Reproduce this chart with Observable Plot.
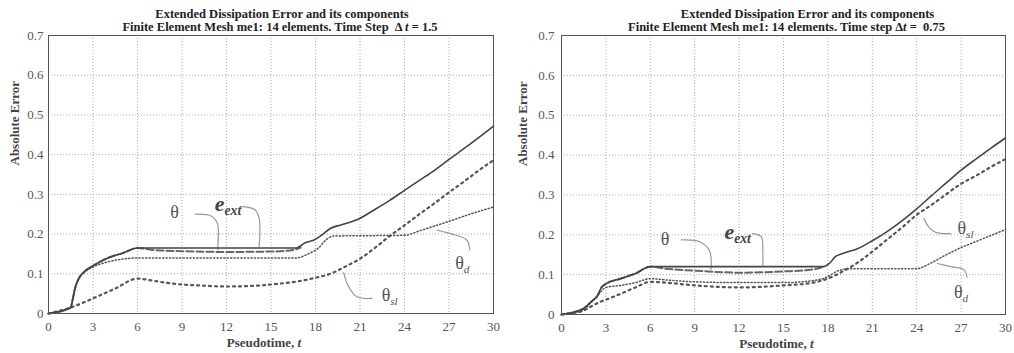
<!DOCTYPE html>
<html><head><meta charset="utf-8">
<script src="https://cdn.jsdelivr.net/npm/d3@7"></script>
<script src="https://cdn.jsdelivr.net/npm/@observablehq/plot@0.6"></script>
<style>
body{margin:0;background:#fff;}
#wrap{display:flex;width:1014px;height:353px;overflow:hidden;}
#wrap svg{display:block;}
</style></head><body><div id="wrap"></div>
<script>
// ---- shared text / ticks ----
const xTicks = [0, 3, 6, 9, 12, 15, 18, 21, 24, 27, 30];
const yTicks = [0, 0.1, 0.2, 0.3, 0.4, 0.5, 0.6, 0.7];
const titleLine1 = "Extended Dissipation Error and its components";
const subtitleLeft = "Finite Element Mesh me1: 14 elements. Time Step  Δ *t* = 1.5";
const subtitleRight = "Finite Element Mesh me1: 14 elements. Time step Δ*t* =  0.75";
const xLabel = "Pseudotime, *t*";
const yLabel = "Absolute Error";

// ---- left panel (Δt = 1.5) ----
const L_eExt_t = [0, 1.5, 1.6, 1.8, 2.0, 2.5, 3, 4, 5, 6, 16.7, 17.3, 17.9, 18.4, 19, 19.7, 20.8, 22, 23, 24, 25, 26, 27, 28, 29, 30];
const L_eExt_v = [0, 0.015, 0.03, 0.065, 0.085, 0.108, 0.12, 0.14, 0.152, 0.165, 0.165, 0.178, 0.185, 0.197, 0.214, 0.223, 0.236, 0.262, 0.285, 0.31, 0.335, 0.36, 0.388, 0.415, 0.443, 0.472];
const L_theta_t = [0, 1.5, 1.6, 1.8, 2.0, 2.5, 3, 4, 5, 6, 7, 9, 12, 15, 16.5, 17.0];
const L_theta_v = [0, 0.015, 0.03, 0.065, 0.085, 0.108, 0.12, 0.14, 0.152, 0.165, 0.16, 0.157, 0.155, 0.156, 0.16, 0.166];
const L_thetaD_t = [0, 1.5, 1.6, 1.8, 2.0, 2.5, 3, 4, 5, 6, 16.7, 17.5, 18.2, 18.7, 19.2, 24, 25, 26, 27, 28, 29, 30];
const L_thetaD_v = [0, 0.015, 0.03, 0.065, 0.085, 0.106, 0.117, 0.13, 0.137, 0.14, 0.14, 0.15, 0.165, 0.185, 0.195, 0.197, 0.208, 0.22, 0.232, 0.245, 0.257, 0.268];
const L_thetaSl_t = [0, 1.5, 3, 4.5, 6, 7, 8, 9, 10, 12, 14, 15, 16, 17, 18, 19, 20, 21, 22, 23, 24, 25, 26, 27, 28, 29, 30];
const L_thetaSl_v = [0, 0.015, 0.038, 0.063, 0.088, 0.083, 0.077, 0.073, 0.071, 0.068, 0.07, 0.073, 0.077, 0.082, 0.09, 0.1, 0.118, 0.138, 0.165, 0.195, 0.222, 0.25, 0.277, 0.305, 0.332, 0.36, 0.386];

// ---- right panel (Δt = 0.75) ----
const R_eExt_t = [0, 1.5, 1.8, 2.1, 2.4, 2.7, 3, 4, 5, 6, 17.7, 18.1, 18.5, 19, 20, 21, 22, 23, 24, 25, 26, 27, 28, 29, 30];
const R_eExt_v = [0, 0.015, 0.025, 0.035, 0.045, 0.068, 0.077, 0.09, 0.103, 0.12, 0.12, 0.128, 0.145, 0.153, 0.165, 0.185, 0.208, 0.235, 0.265, 0.298, 0.33, 0.362, 0.39, 0.417, 0.443];
const R_theta_t = [0, 1.5, 1.8, 2.1, 2.4, 2.7, 3, 4, 5, 6, 7, 9, 12, 15, 17, 17.7];
const R_theta_v = [0, 0.015, 0.025, 0.035, 0.045, 0.068, 0.077, 0.09, 0.103, 0.12, 0.115, 0.11, 0.105, 0.108, 0.113, 0.12];
const R_thetaD_t = [0, 1.5, 2, 2.5, 3, 4, 5, 6, 7, 9, 12, 15, 17, 18, 18.7, 19.5, 24, 25, 26, 27, 28, 29, 30];
const R_thetaD_v = [0, 0.012, 0.03, 0.05, 0.068, 0.073, 0.08, 0.09, 0.087, 0.082, 0.08, 0.08, 0.085, 0.095, 0.11, 0.115, 0.115, 0.13, 0.15, 0.168, 0.183, 0.198, 0.213];
const R_thetaSl_t = [0, 1.5, 2, 2.5, 3, 4, 5, 6, 7, 9, 12, 15, 17, 18, 19, 20, 21, 22, 23, 24, 25, 26, 27, 28, 29, 30];
const R_thetaSl_v = [0, 0.01, 0.02, 0.03, 0.037, 0.052, 0.068, 0.082, 0.08, 0.073, 0.068, 0.073, 0.08, 0.09, 0.108, 0.13, 0.158, 0.188, 0.218, 0.25, 0.275, 0.302, 0.328, 0.348, 0.37, 0.39];

// ---- annotations: label text, anchor (t,v), leader line points ----
const L_labels = ["θ", "e_{ext}", "θ_{d}", "θ_{sl}"];
const L_labelT = [8.5, 12.1, 27.9, 23.0];
const L_labelV = [0.256, 0.277, 0.126, 0.046];
const L_leaders = [
  [[9.9, 0.25], [11.0, 0.245], [11.4, 0.225], [11.4, 0.16]],
  [[12.95, 0.269], [13.9, 0.262], [14.2, 0.24], [14.2, 0.168]],
  [[28.4, 0.16], [28.2, 0.185], [27.2, 0.2], [26.2, 0.21]],
  [[21.8, 0.038], [20.8, 0.042], [20.2, 0.07], [19.9, 0.103]]
];
const R_labels = ["θ", "e_{ext}", "θ_{sl}", "θ_{d}"];
const R_labelT = [7.0, 11.9, 27.3, 27.0];
const R_labelV = [0.19, 0.208, 0.216, 0.056];
const R_leaders = [
  [[8.1, 0.187], [9.3, 0.183], [10.0, 0.16], [10.1, 0.113]],
  [[12.9, 0.203], [13.5, 0.195], [13.6, 0.16], [13.6, 0.123]],
  [[26.3, 0.203], [25.3, 0.206], [24.8, 0.22], [24.5, 0.241]],
  [[27.4, 0.094], [27.2, 0.112], [26.3, 0.12], [25.4, 0.128]]
];

const serif = "'Liberation Serif', 'DejaVu Serif', serif";

function rows(t, v) { return t.map((x, i) => ({t: x, v: v[i]})); }

function richify(svg) {
  d3.select(svg).selectAll("text").each(function () {
    if (this.querySelector("tspan")) return;
    const s = this.textContent;
    if (!/[*_]/.test(s)) return;
    const parts = s.split(/(\*[^*]+\*|_\{[^}]+\})/).filter(p => p);
    this.textContent = "";
    let sub = false;
    for (const p of parts) {
      const ts = d3.select(this).append("tspan");
      if (p.startsWith("*")) {
        ts.text(p.slice(1, -1)).attr("font-style", "italic");
        if (sub) { ts.attr("dy", "-0.3em"); sub = false; }
      } else if (p.startsWith("_{")) {
        ts.text(p.slice(2, -1)).attr("font-size", "0.62em").attr("dy", "0.35em").attr("font-style", "italic");
        sub = true;
      } else {
        ts.text(p);
        if (sub) { ts.attr("dy", "-0.3em"); sub = false; }
      }
    }
  });
}

function panel(cfg) {
  const leaderRows = cfg.leaders.flatMap((pts, k) => pts.map(p => ({t: p[0], v: p[1], k})));
  const labelRows = cfg.labels.map((s, i) => ({s, t: cfg.labelT[i], v: cfg.labelV[i], big: s.startsWith("e")}));
  const svg = Plot.plot({
    width: 507, height: 353,
    marginLeft: cfg.ml, marginRight: cfg.mr, marginTop: 35, marginBottom: cfg.mb,
    style: {fontFamily: serif, fontSize: "13px", color: "#555", background: "#fff"},
    x: {domain: [0, 30]},
    y: {domain: [0, 0.7]},
    marks: [
      Plot.gridX(xTicks, {stroke: "#aaa", strokeOpacity: 1, strokeDasharray: "1,2"}),
      Plot.gridY(yTicks, {stroke: "#aaa", strokeOpacity: 1, strokeDasharray: "1,2"}),
      Plot.axisX(xTicks, {tickSize: 0, tickPadding: 8, label: null}),
      Plot.axisY(yTicks, {tickSize: 0, tickPadding: cfg.ytp, label: null, tickFormat: d => d === 0 ? "0" : d.toFixed(1)}),
      Plot.line(leaderRows, {x: "t", y: "v", z: "k", stroke: "#999", strokeWidth: 1.2, curve: "catmull-rom"}),
      Plot.line(rows(cfg.sl_t, cfg.sl_v), {x: "t", y: "v", stroke: "#555", strokeWidth: 2.2, strokeDasharray: "2,4", curve: "monotone-x"}),
      Plot.line(rows(cfg.d_t, cfg.d_v), {x: "t", y: "v", stroke: "#555", strokeWidth: 1.5, strokeDasharray: "1.2,2.2", curve: "monotone-x"}),
      Plot.line(rows(cfg.th_t, cfg.th_v), {x: "t", y: "v", stroke: "#666", strokeWidth: 2, strokeDasharray: "7,3", curve: "monotone-x"}),
      Plot.line(rows(cfg.e_t, cfg.e_v), {x: "t", y: "v", stroke: "#444", strokeWidth: 1.6, curve: "monotone-x"}),
      Plot.text(labelRows.filter(d => !d.big), {x: "t", y: "v", text: "s", fill: "#555", fontSize: 18, textAnchor: "middle", lineAnchor: "middle"}),
      Plot.text(labelRows.filter(d => d.big), {x: "t", y: "v", text: "s", fill: "#444", fontSize: 22, fontWeight: "bold", fontStyle: "italic", textAnchor: "middle", lineAnchor: "middle"}),
      Plot.frame({stroke: "#555"}),
      Plot.text([titleLine1], {frameAnchor: "top", dy: -18, dx: cfg.t1dx, lineAnchor: "bottom", fill: "#222", fontWeight: "bold", fontSize: 12.5}),
      Plot.text([cfg.subtitle], {frameAnchor: "top", dy: -5, dx: cfg.t2dx, lineAnchor: "bottom", fill: "#222", fontWeight: "bold", fontSize: 12.5}),
      Plot.text([xLabel], {frameAnchor: "bottom", dy: 24, dx: -7, lineAnchor: "top", fill: "#444", fontWeight: "bold", fontSize: 13}),
      Plot.text([yLabel], {frameAnchor: "left", dx: cfg.ylx, dy: -9, rotate: -90, lineAnchor: "middle", fill: "#444", fontWeight: "bold", fontSize: 13})
    ]
  });
  richify(svg);
  return svg;
}

const wrap = document.getElementById("wrap");
wrap.appendChild(panel({
  ml: 48, mr: 14, mb: 40, ytp: 5, ylx: -34, t1dx: 11, t2dx: 9,
  subtitle: subtitleLeft,
  e_t: L_eExt_t, e_v: L_eExt_v, th_t: L_theta_t, th_v: L_theta_v,
  d_t: L_thetaD_t, d_v: L_thetaD_v, sl_t: L_thetaSl_t, sl_v: L_thetaSl_v,
  labels: L_labels, labelT: L_labelT, labelV: L_labelV, leaders: L_leaders
}));
wrap.appendChild(panel({
  ml: 54, mr: 9, mb: 39, ytp: 7, ylx: -39, t1dx: 24, t2dx: 3,
  subtitle: subtitleRight,
  e_t: R_eExt_t, e_v: R_eExt_v, th_t: R_theta_t, th_v: R_theta_v,
  d_t: R_thetaD_t, d_v: R_thetaD_v, sl_t: R_thetaSl_t, sl_v: R_thetaSl_v,
  labels: R_labels, labelT: R_labelT, labelV: R_labelV, leaders: R_leaders
}));
</script>
</body></html>
